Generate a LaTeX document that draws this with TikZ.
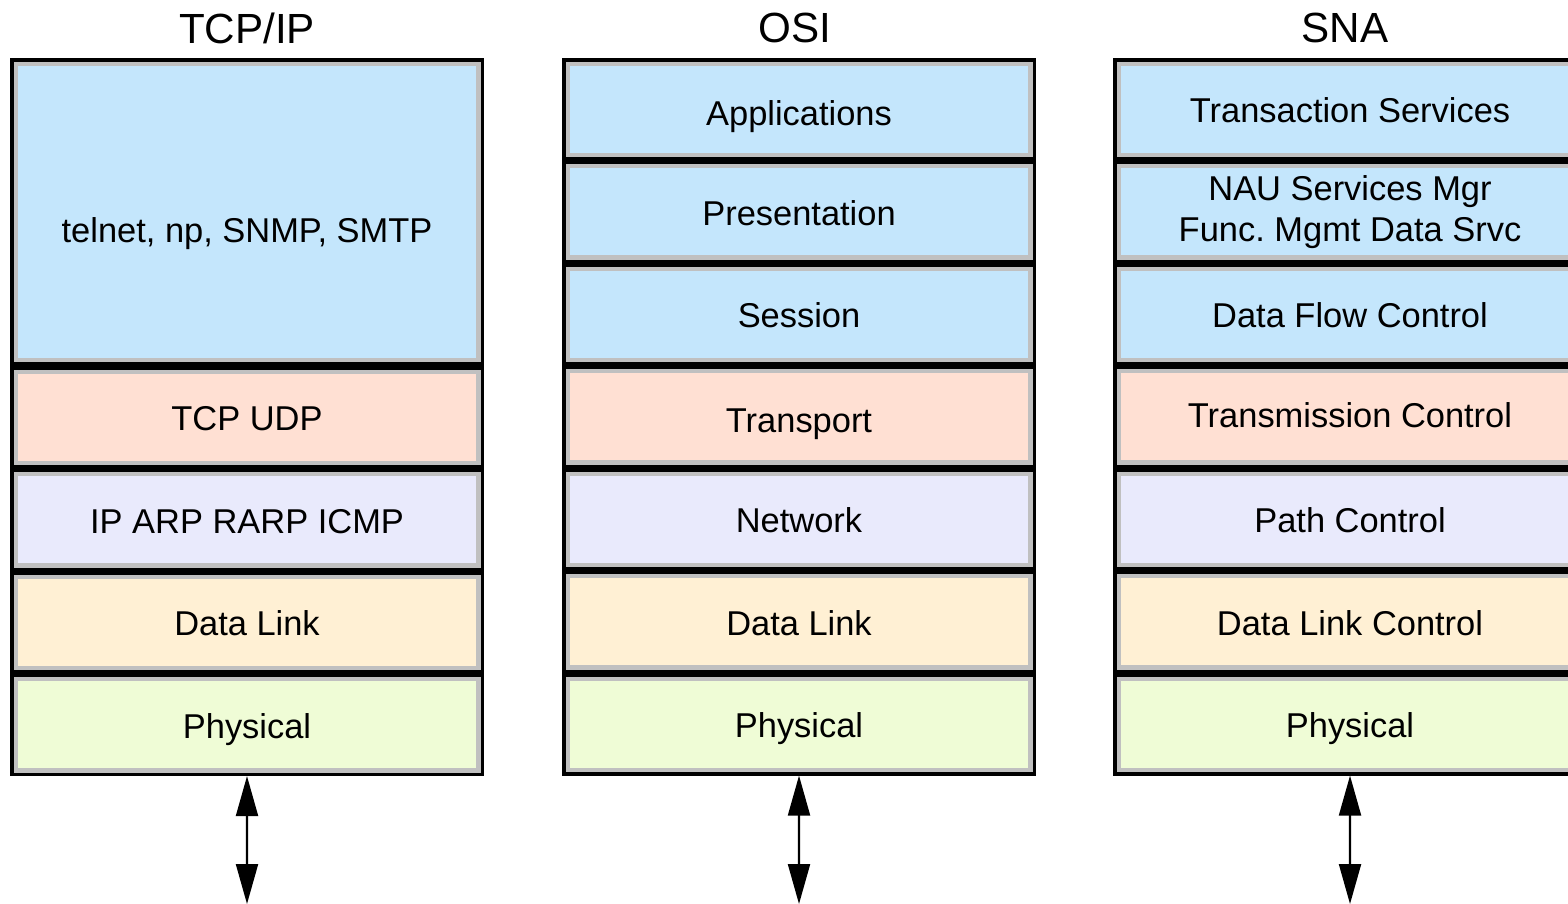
\documentclass[tikz,border=0pt]{standalone}
\usepackage{fontspec}
\setmainfont{Liberation Sans}
\frenchspacing
\usetikzlibrary{arrows.meta,positioning}
\definecolor{appblue}{RGB}{196,230,252}
\definecolor{transpeach}{RGB}{255,224,211}
\definecolor{netlav}{RGB}{233,234,252}
\definecolor{linkbeige}{RGB}{255,240,212}
\definecolor{physgreen}{RGB}{239,252,214}
\definecolor{rimgray}{RGB}{192,192,192}
\tikzset{
    node distance =0 cm and 0 cm,
    layer/.style ={rectangle, draw=black, line width=1pt, minimum width=4.705cm, minimum height=0.99cm,
        align=center, font=\fontsize{9.8}{11.6}\selectfont, text height=9.6pt, text depth=2pt,
        path picture={\draw[rimgray, line width=3.4pt] (path picture bounding box.south west) rectangle (path picture bounding box.north east);}},
    title/.style = {font=\fontsize{12}{14}\selectfont},
    wire/.style = {{Triangle[length=0.4cm,width=0.22cm]}-{Triangle[length=0.4cm,width=0.22cm]}, line width=0.6pt}
}

\begin{document}
\begin{tikzpicture}
	\useasboundingbox (0,0) rectangle (15.68,-9.04);
	\tikzstyle{app}=[layer, fill=appblue]
	\tikzstyle{tra}=[layer, fill=transpeach]
	\tikzstyle{net}=[layer, fill=netlav]
	\tikzstyle{lnk}=[layer, fill=linkbeige]
	\tikzstyle{phy}=[layer, fill=physgreen]

	% TCP/IP
	\node[title] (tcp) at (2.47,-0.28) {TCP/IP};
	\node[app, anchor=north west, minimum height=3.045cm, text height=0.69cm] (tcp1) at (0.10,-0.58) {telnet, np, SNMP, SMTP};
	\node[tra, below=of tcp1] (tcp2) {TCP UDP};
	\node[net, below=of tcp2] (tcp3) {IP ARP RARP ICMP};
	\node[lnk, below=of tcp3] (tcp4) {Data Link};
	\node[phy, below=of tcp4] (tcp5) {Physical};
	\coordinate (tcpb) at (2.47,-9.04);

	% OSI
	\node[title] (osi) at (7.95,-0.28) {OSI};
	\node[app, anchor=north west, text height=11pt] (osi1) at (5.62,-0.58) {Applications};
	\node[app, below=of osi1] (osi2) {Presentation};
	\node[app, below=of osi2] (osi3) {Session};
	\node[tra, below=of osi3, text height=11pt] (osi4) {Transport};
	\node[net, below=of osi4] (osi5) {Network};
	\node[lnk, below=of osi5] (osi6) {Data Link};
	\node[phy, below=of osi6] (osi7) {Physical};
	\coordinate (osib) at (7.99,-9.04);

	% SNA
	\node[title] (sna) at (13.45,-0.28) {SNA};
	\node[app, anchor=north west] (sna1) at (11.13,-0.58) {Transaction Services};
	\node[app, below=of sna1, text height=, text depth=] (sna2) {NAU Services Mgr\\Func. Mgmt Data Srvc};
	\node[app, below=of sna2] (sna3) {Data Flow Control};
	\node[tra, below=of sna3, text height=8pt] (sna4) {Transmission Control};
	\node[net, below=of sna4] (sna5) {Path Control};
	\node[lnk, below=of sna5] (sna6) {Data Link Control};
	\node[phy, below=of sna6] (sna7) {Physical};
	\coordinate (snab) at (13.50,-9.04);

	\path (tcp5) edge[wire] (tcpb);
	\path (osi7) edge[wire] (osib);
	\path (sna7) edge[wire] (snab);
\end{tikzpicture}
\end{document}
